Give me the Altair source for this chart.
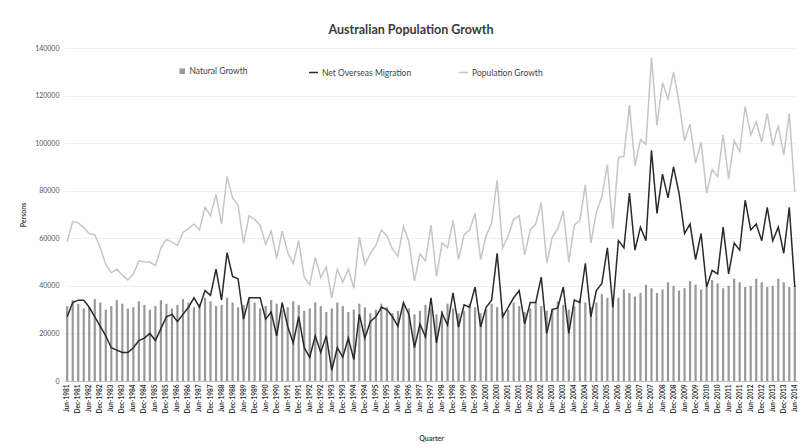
import altair as alt
import pandas as pd

# Quarter categories: Jun-1981 .. Jun-2014
MONTHS = ["Mar", "Jun", "Sep", "Dec"]
quarters = [f"{MONTHS[(1 + i) % 4]}-{1981 + (1 + i) // 4}" for i in range(133)]
tick_labels = quarters[::2]

natural_growth = [
    31500, 34000, 32500, 30500, 31000, 34500, 33000, 30000, 31500, 34000,
    32500, 30500, 31000, 33500, 32000, 30000, 31500, 34000, 32500, 30500,
    32000, 34500, 33000, 31000, 32500, 35000, 33500, 31500, 32000, 35000,
    33000, 31000, 32000, 34500, 33000, 30500, 31500, 34000, 32500, 30000,
    31000, 33500, 32000, 29500, 30500, 33000, 31500, 29000, 30500, 33000,
    31500, 29000, 30000, 32500, 31000, 28500, 30000, 32500, 31000, 28500,
    29500, 32000, 30500, 28000, 29500, 32000, 30500, 28000, 29500, 32500,
    30500, 28500, 29500, 32500, 31000, 28500, 30000, 32500, 31000, 29000,
    30000, 33000, 31500, 29000, 30500, 33000, 31500, 29500, 30500, 33500,
    32000, 30000, 31500, 34500, 33000, 31000, 33000, 36500, 35000, 33000,
    35000, 38500, 37000, 35500, 37000, 40500, 39000, 37000, 38500, 41500,
    40000, 38000, 39000, 42000, 40500, 38500, 39500, 42500, 41000, 39000,
    40000, 43000, 41500, 39500, 40000, 43000, 41500, 39500, 40000, 43000,
    41500, 39500, 40000,
]

net_overseas_migration = [
    27000, 33000, 34000, 34000, 31000, 27000, 23000, 19000, 14000, 13000,
    12000, 12000, 14000, 17000, 18000, 20000, 17000, 22000, 27000, 28000,
    25000, 28000, 31000, 35000, 31000, 38000, 36000, 47000, 34000, 54000,
    44000, 43000, 26000, 35000, 35000, 35000, 26000, 29000, 19000, 33000,
    23000, 16000, 27000, 14000, 10000, 19000, 12000, 19000, 4500, 14000,
    10000, 18000, 9000, 28000, 18000, 25000, 27000, 31000, 30000, 27000,
    23000, 33000, 28000, 14000, 24000, 18500, 35000, 16000, 28500, 23500,
    37000, 22700, 32000, 31000, 39500, 22700, 31000, 34000, 53700, 27000,
    31000, 35000, 38000, 24000, 33000, 33000, 43700, 20000, 30000, 30700,
    39500, 20000, 34000, 33000, 49500, 27000, 38000, 41000, 56000, 31000,
    59000, 56000, 79000, 55000, 64700, 59000, 97000, 70500, 87000, 77000,
    90000, 79000, 62000, 66000, 51000, 62000, 39500, 46500, 45000, 64700,
    45000, 58000, 55000, 76000, 63500, 66000, 59000, 73000, 59000, 64700,
    53700, 73000, 39500,
]

population_growth = [
    58500, 67000, 66500, 64500, 62000, 61500, 56000, 49000, 45500, 47000,
    44500, 42500, 45000, 50500, 50000, 50000, 48500, 56000, 59500, 58500,
    57000, 62500, 64000, 66000, 63500, 73000, 69500, 78500, 66000, 86000,
    77000, 74000, 58000, 69500, 68000, 65500, 57500, 63000, 51500, 63000,
    54000, 49500, 59000, 43500, 40500, 52000, 43500, 48000, 35000, 47000,
    41500, 47000, 39000, 60500, 49000, 53500, 57000, 63500, 61000, 55500,
    52500, 65000, 58500, 42000, 53500, 50500, 65500, 44000, 58000, 56000,
    67500, 51000, 61500, 63500, 70500, 51000, 61000, 66500, 84500, 56000,
    61000, 68000, 69500, 53000, 63500, 66000, 75000, 49500, 60500, 64000,
    71500, 50000, 65500, 67500, 82500, 58000, 71000, 77500, 91000, 64000,
    94000, 94500, 116000, 90500, 101500, 99500, 136000, 107500, 125500, 118500,
    130000, 117000, 101000, 108000, 91500, 100500, 79000, 89000, 86000, 103500,
    85000, 101000, 96500, 115500, 103500, 109000, 100500, 112500, 99000, 107500,
    95000, 112500, 79500,
]

y_ticks = [0, 20000, 40000, 60000, 80000, 100000, 120000, 140000]

df = pd.DataFrame({
    "quarter": quarters,
    "Natural Growth": natural_growth,
    "Net Overseas Migration": net_overseas_migration,
    "Population Growth": population_growth,
})

FONT = "Lato"

x_enc = alt.X(
    "quarter:N",
    sort=quarters,
    scale=alt.Scale(domain=quarters, paddingInner=0.6, paddingOuter=0.2),
    axis=alt.Axis(
        title="Quarter",
        values=tick_labels,
        labelAngle=-90,
        labelFontSize=6.5,
        labelFontWeight="bold",
        labelColor="#333333",
        labelPadding=3,
        ticks=False,
        domain=True,
        domainColor="#bbbbbb",
        titleFontSize=7,
        titleFontWeight="bold",
        titleColor="#444444",
        titlePadding=22,
        labelFont=FONT,
        titleFont=FONT,
    ),
)

y_scale = alt.Scale(domain=[0, 140000], nice=False)
y_axis = alt.Axis(
    title="Persons",
    values=y_ticks,
    format="d",
    labelFontSize=7,
    labelColor="#555555",
    labelPadding=6,
    ticks=False,
    domain=False,
    grid=True,
    gridColor="#f0f0f0",
    titleFontSize=7,
    titleFontWeight="bold",
    titleColor="#444444",
    titlePadding=8,
    labelFont=FONT,
    titleFont=FONT,
)

bars = alt.Chart(df).transform_fold(
    ["Natural Growth"], as_=["series", "value"]
).mark_bar().encode(
    x=x_enc,
    y=alt.Y("value:Q", scale=y_scale, axis=y_axis),
    fill=alt.Fill(
        "series:N",
        scale=alt.Scale(domain=["Natural Growth"], range=["#999999"]),
        legend=alt.Legend(
            title=None, orient="none", legendX=113, legendY=19,
            symbolType="square", symbolSize=30, labelFontSize=8.5,
            labelColor="#444444", labelFont=FONT, labelOffset=3,
        ),
    ),
)

lines = alt.Chart(df).transform_fold(
    ["Population Growth", "Net Overseas Migration"], as_=["series", "value"]
).mark_line(strokeWidth=1.5).encode(
    x=x_enc,
    y=alt.Y("value:Q", scale=y_scale, axis=y_axis),
    stroke=alt.Stroke(
        "series:N",
        sort=["Net Overseas Migration", "Population Growth"],
        scale=alt.Scale(domain=["Net Overseas Migration", "Population Growth"],
                        range=["#2a2a2a", "#c6c6c6"]),
        legend=alt.Legend(
            title=None, orient="none", legendX=243, legendY=19,
            direction="horizontal", symbolType="stroke", symbolSize=80,
            symbolStrokeWidth=1.5, labelFontSize=8.5, labelColor="#444444",
            labelFont=FONT, labelOffset=3, columnPadding=44,
        ),
    ),
    order=alt.Order("series:N", sort="descending"),
)

chart = alt.layer(bars, lines).properties(
    width=732,
    height=333,
    autosize=alt.AutoSizeParams(type="none"),
    padding={"left": 65, "top": 48, "right": 9, "bottom": 64},
    title=alt.TitleParams(
        "Australian Population Growth",
        fontSize=12.5, fontWeight="bold", color="#3a3a3a", font=FONT,
        anchor="middle", dx=-20, offset=8,
    ),
    background="white",
).configure_view(stroke=None)

chart.save("out.html", embed_options={"renderer": "svg", "actions": False})
